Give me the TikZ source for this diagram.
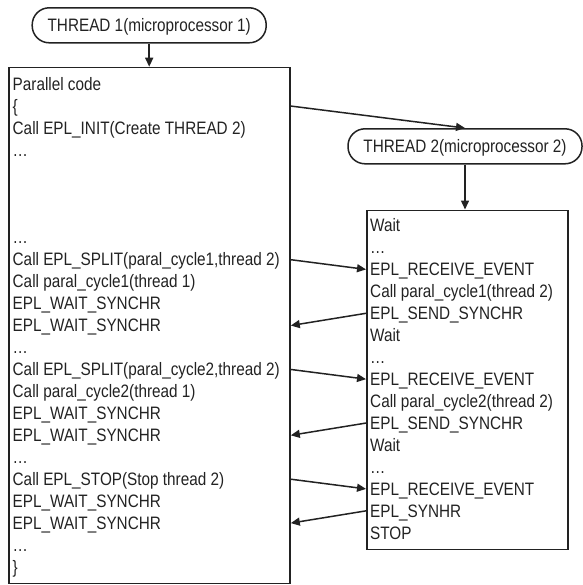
\documentclass[tikz,border=0pt]{standalone}
\usepackage{fontspec}
\setmainfont{Liberation Sans}[FakeStretch=0.85]
\usetikzlibrary{arrows.meta}
\definecolor{ink}{HTML}{222222}

\begin{document}
\begin{tikzpicture}[
    x=1pt, y=-1pt,
    >={Triangle[length=9pt, width=8pt]},
    every node/.style={font=\fontsize{18}{22}\selectfont, text=ink},
    term/.style={draw=ink, line width=1.5pt, rounded corners=17pt, minimum width=234pt, minimum height=35pt,
        inner sep=0pt, text height=12.4pt, text depth=0pt},
    panel/.style={draw=ink, line width=1.5pt, anchor=north west, inner sep=0pt},
    codeline/.style={anchor=base west, inner sep=0pt, text height=12.4pt, text depth=0pt},
    link/.style={->, draw=ink, line width=1.5pt}
]
\useasboundingbox (0,0) rectangle (582,585);

\node[term] (thr1) at (149.2,25.3) {THREAD 1(microprocessor 1)};
\node[term] (thr2) at (465,146.3) {THREAD 2(microprocessor 2)};

\node[panel, minimum width=281pt, minimum height=516pt] (lbox) at (8.3,66.7) {};
\node[panel, minimum width=201.3pt, minimum height=339pt] (rbox) at (366,209.5) {};

\foreach \n/\txt in {1/Parallel code, 2/\{, 3/Call EPL\_INIT(Create THREAD 2), 4/\dots,
    8/\dots, 9/{Call EPL\_SPLIT(paral\_cycle1,thread 2)}, 10/Call paral\_cycle1(thread 1),
    11/EPL\_WAIT\_SYNCHR, 12/EPL\_WAIT\_SYNCHR, 13/\dots,
    14/{Call EPL\_SPLIT(paral\_cycle2,thread 2)}, 15/Call paral\_cycle2(thread 1),
    16/EPL\_WAIT\_SYNCHR, 17/EPL\_WAIT\_SYNCHR, 18/\dots,
    19/Call EPL\_STOP(Stop thread 2), 20/EPL\_WAIT\_SYNCHR, 21/EPL\_WAIT\_SYNCHR, 22/\dots, 23/\}}
  \node[codeline] (l\n) at (12.5,{90.3+(\n-1)*21.95}) {\txt};

\foreach \n/\txt in {1/Wait, 2/\dots, 3/EPL\_RECEIVE\_EVENT, 4/Call paral\_cycle1(thread 2),
    5/EPL\_SEND\_SYNCHR, 6/Wait, 7/\dots, 8/EPL\_RECEIVE\_EVENT, 9/Call paral\_cycle2(thread 2),
    10/EPL\_SEND\_SYNCHR, 11/Wait, 12/\dots, 13/EPL\_RECEIVE\_EVENT, 14/EPL\_SYNHR, 15/STOP}
  \node[codeline] (r\n) at (370,{231.7+(\n-1)*21.95}) {\txt};

\draw[link] (thr1.south) -- (thr1.south |- lbox.north);
\draw[link] (lbox.east |- l2) -- (thr2.north);
\draw[link] (thr2.south) -- (thr2.south |- rbox.north);

\foreach \x/\y in {l9/r3, l14/r8, l19/r13}
  \draw[link] (lbox.east |- \x) -- (rbox.west |- \y);
\foreach \x/\y in {r5/l12, r10/l17, r14/l21}
  \draw[link] (rbox.west |- \x) -- (lbox.east |- \y);

\end{tikzpicture}
\end{document}
